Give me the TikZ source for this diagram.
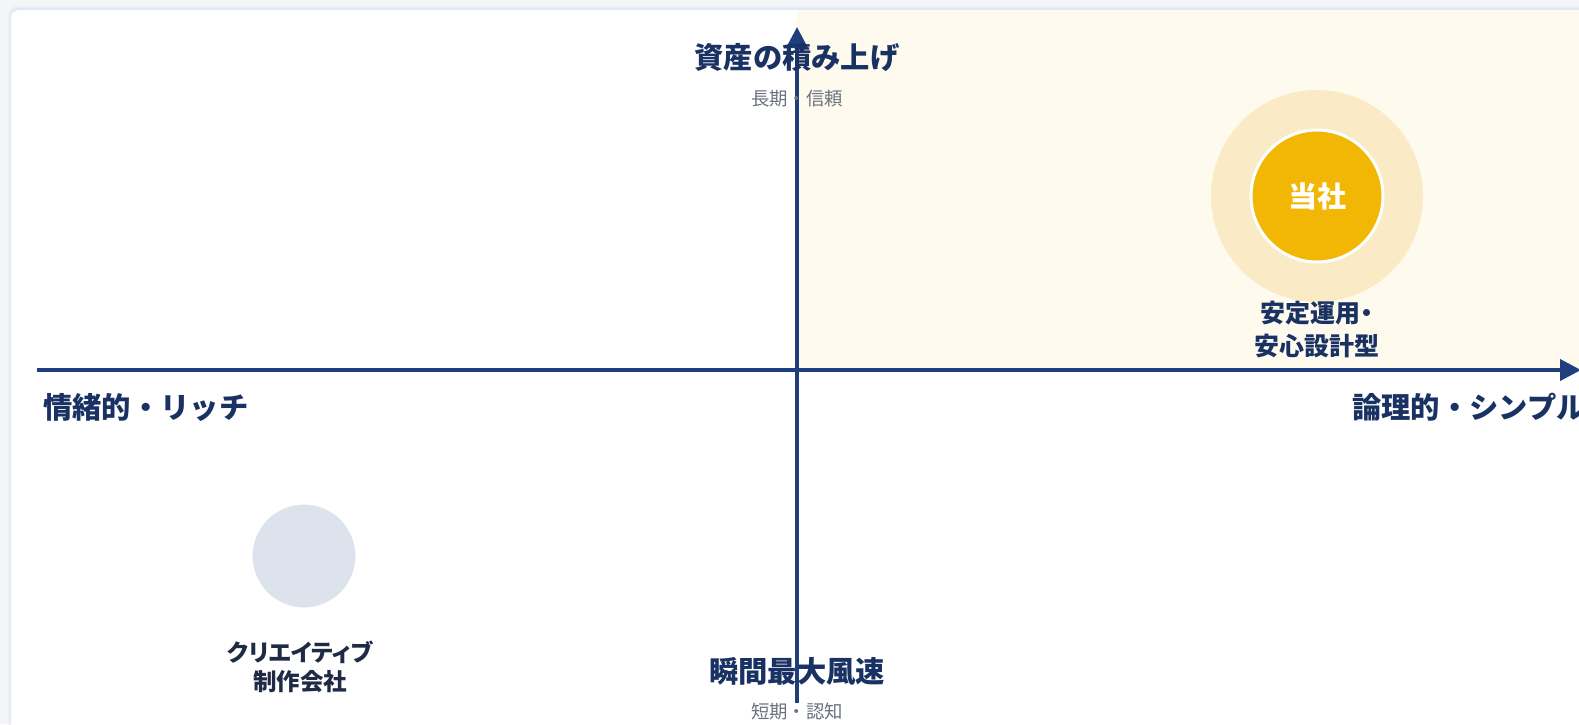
\documentclass[tikz,border=0pt]{standalone}
\usepackage{fontspec}
\usetikzlibrary{arrows.meta}
\newfontfamily\jpfont{Noto Sans CJK JP}
\newfontfamily\jppropfont[RawFeature=+palt]{Noto Sans CJK JP}

\definecolor{pagebg}{HTML}{F3F5F9}
\definecolor{shadowblue}{HTML}{DDE2EC}
\definecolor{quadyellow}{HTML}{FEFBEE}
\definecolor{axisblue}{HTML}{1E3F7C}
\definecolor{labelnavy}{HTML}{1A3263}
\definecolor{subgray}{HTML}{6B7280}
\definecolor{usgold}{HTML}{F2B705}
\definecolor{ushalo}{HTML}{FAEBC6}
\definecolor{otherfill}{HTML}{DCE3EC}
\definecolor{otherink}{HTML}{1F2A44}

\tikzset{
  axis/.style={line width=4pt, draw=axisblue, -{Triangle[length=21pt,width=21pt]}},
  axislabel/.style={text=labelnavy, inner sep=0pt, font=\jpfont\bfseries\fontsize{29.3}{32}\selectfont},
  sublabel/.style={text=subgray, inner sep=0pt, font=\jpfont\fontsize{18.4}{20}\selectfont},
  halo/.style={circle, fill=ushalo, minimum size=212pt, inner sep=0pt},
  bubble/.style={circle, draw=white, line width=3pt, minimum size=132pt, inner sep=0pt},
  poslabel/.style={inner sep=0pt, align=center, font=\jppropfont\bfseries\fontsize{25}{33}\selectfont}
}

\begin{document}
\begin{tikzpicture}[x=1pt, y=-1pt]
  \useasboundingbox (0,0) rectangle (1579,724);
  % page and card
  \fill[pagebg] (0,0) rectangle (1579,724);
  \fill[shadowblue, opacity=0.35, rounded corners=10pt] (8,6) rectangle (1600,760);
  \fill[shadowblue, opacity=0.5, rounded corners=9pt] (10,8) rectangle (1600,760);
  \fill[white, rounded corners=8pt] (11,10) rectangle (1600,760);
  % highlighted quadrant
  \fill[quadyellow] (797,10) rectangle (1600,370);

  % axes
  \coordinate (xleft) at (37,370);
  \coordinate (xright) at (1581,370);
  \coordinate (ybottom) at (797,703);
  \coordinate (ytop) at (797,27);
  \draw[axis] (xleft) -- (xright);
  \draw[axis] (ybottom) -- (ytop);

  \node[axislabel] (top) at (797,58) {資産の積み上げ};
  \node[sublabel] (topsub) at (797,99) {長期・信頼};
  \node[axislabel] (bottom) at (797,671) {瞬間最大風速};
  \node[sublabel] (bottomsub) at (797,712) {短期・認知};
  \node[axislabel, anchor=west] (left) at (43,407) {情緒的・リッチ};
  \node[axislabel, anchor=west] (right) at (1352,407) {論理的・シンプル};

  % positions
  \node[halo] (ushalo) at (1317,196) {};
  \node[bubble, fill=usgold, text=white, font=\jpfont\bfseries\fontsize{29}{30}\selectfont] (us) at (1317,196) {当社};
  \node[poslabel, text=labelnavy] (uslabel) at (1317,329) {安定運用・\\安心設計型};

  \node[bubble, fill=otherfill, minimum size=106pt] (other) at (304,556) {};
  \node[poslabel, text=otherink, font=\jppropfont\bfseries\fontsize{23.5}{29}\selectfont] (otherlabel) at (300,667) {クリエイティブ\\制作会社};
\end{tikzpicture}
\end{document}
